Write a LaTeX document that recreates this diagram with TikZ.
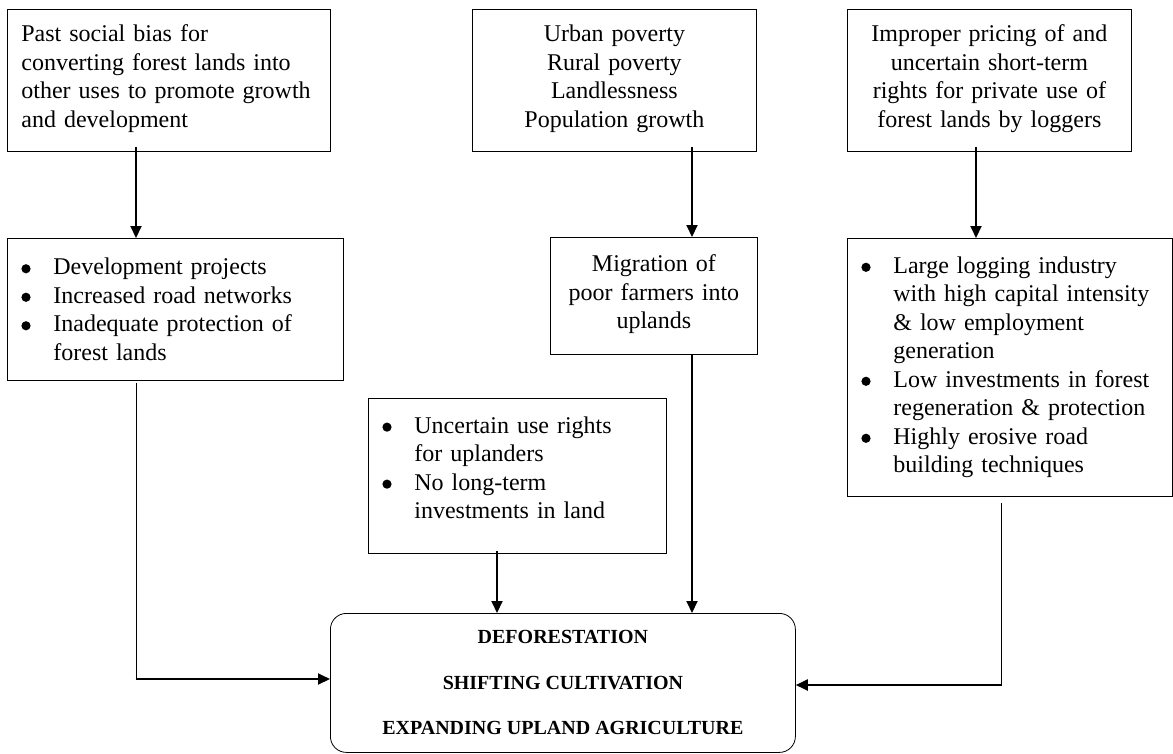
\documentclass[tikz,border=0pt]{standalone}
\usepackage{fontspec}
\setmainfont{Liberation Serif}
\usetikzlibrary{arrows.meta,calc}
\newcommand\bul{\makebox[32pt][l]{\raisebox{1.5pt}{\tikz\fill (0,0) circle[radius=4.6pt];}}}
\newcommand\ind{\hspace*{32pt}}
\tikzset{
  box/.style={draw, line width=0.8pt, anchor=north west, inner xsep=14pt, inner ysep=0pt,
    font=\fontsize{24}{28.5}\selectfont},
  arr/.style={line width=2pt, -{Triangle[length=12pt,width=11pt]}},
  thinline/.style={line width=1pt},
}
\begin{document}
\begin{tikzpicture}[x=1pt,y=-1pt]
\useasboundingbox (0,0) rectangle (1173,753);
\fill[white] (0,0) rectangle (1173,753);

\node[box, minimum width=323pt, minimum height=142pt, text width=295pt, align=left] (A) at (7,9)
  {Past social bias for\\converting forest lands into\\other uses to promote growth\\and development\\[-20pt]\mbox{}};
\node[box, minimum width=284pt, minimum height=142pt, text width=256pt, align=center] (C) at (472,9)
  {Urban poverty\\Rural poverty\\Landlessness\\Population growth\\[-20pt]\mbox{}};
\node[box, minimum width=284pt, minimum height=142pt, text width=256pt, align=center] (E) at (847,9)
  {Improper pricing of and\\uncertain short-term\\rights for private use of\\forest lands by loggers\\[-20pt]\mbox{}};

\node[box, minimum width=336pt, minimum height=142pt, text width=308pt, align=left] (B) at (7,238)
  {\bul Development projects\\\bul Increased road networks\\\bul Inadequate protection of\\\ind forest lands};
\node[box, minimum width=207pt, minimum height=117pt, text width=179pt, align=center] (D) at (550,237)
  {Migration of\\poor farmers into\\uplands\\[-20pt]\mbox{}};
\node[box, minimum width=325pt, minimum height=258pt, text width=297pt, align=left] (F) at (847,238)
  {\bul Large logging industry\\\ind with high capital intensity\\\ind \& low employment\\\ind generation\\\bul Low investments in forest\\\ind regeneration \& protection\\\bul Highly erosive road\\\ind building techniques};
\node[box, minimum width=298pt, minimum height=155pt, text width=270pt, align=left] (G) at (368,398)
  {\bul Uncertain use rights\\\ind for uplanders\\\bul No long-term\\\ind investments in land\\[-12pt]\mbox{}};

\node[draw, line width=0.8pt, rounded corners=16pt, anchor=north west, minimum width=465pt, minimum height=139pt,
  inner sep=0pt, align=center, font=\fontsize{20}{45.5}\selectfont\bfseries] (M) at (330,613)
  {DEFORESTATION\\SHIFTING CULTIVATION\\EXPANDING UPLAND AGRICULTURE};

\coordinate (ax) at (136,0);
\coordinate (cx) at (692,0);
\coordinate (ex) at (976,0);
\coordinate (fx) at (1001,0);
\coordinate (gx) at (497,0);
\coordinate (ly) at (0,679);
\coordinate (ry) at (0,685);

\draw[arr] ($(A.south -| ax)+(0,-5)$) -- (B.north -| ax);
\draw[arr] ($(C.south -| cx)+(0,-5)$) -- (D.north -| cx);
\draw[arr] ($(E.south -| ex)+(0,-5)$) -- (F.north -| ex);
\draw[arr] (D.south -| cx) -- (M.north -| cx);
\draw[arr] ($(G.south -| gx)+(0,-3)$) -- (M.north -| gx);

\draw[thinline] ($(B.south -| ax)+(0,2)$) -- (ax |- ly);
\draw[arr] ($(ax |- ly)+(-0.5,0)$) -- (M.west |- ly);
\draw[thinline] ($(F.south -| fx)+(0,6)$) -- (fx |- ry);
\draw[arr] ($(fx |- ry)+(0.5,0)$) -- (M.east |- ry);
\end{tikzpicture}
\end{document}
